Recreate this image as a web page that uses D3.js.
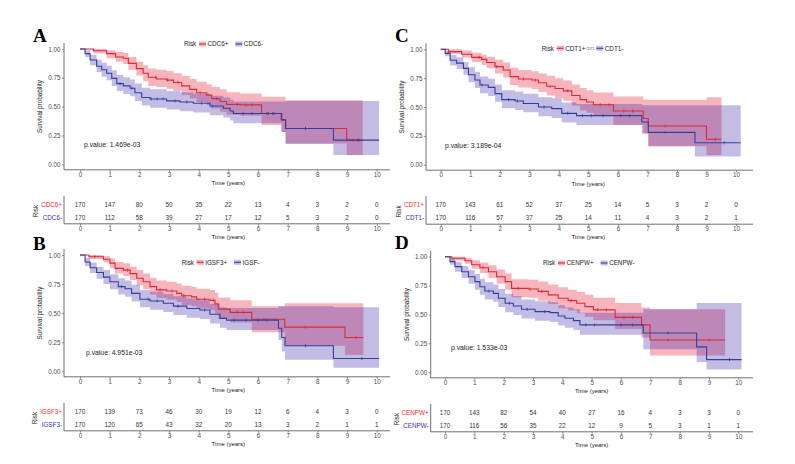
<!DOCTYPE html>
<html>
<head>
<meta charset="utf-8">
<script src="https://cdn.jsdelivr.net/npm/d3@7"></script>
<style>
  body { margin: 0; background: #fff; }
  svg { display: block; font-family: "Liberation Sans", Arial, sans-serif; }
</style>
</head>
<body>
<script>
var width = 795,
    height = 464;

var timeTicks = [0, 1, 2, 3, 4, 5, 6, 7, 8, 9, 10];
var survTicks = [0, 0.25, 0.5, 0.75, 1];

// each row: [time, survival, lower CI, upper CI]  (step after)
// --- A: CDC6
var cdc6Pos = [[0,1,1,1],[0.45,0.985,0.96,1],[0.9,0.96,0.92,0.99],[1.2,0.93,0.89,0.975],[1.46,0.92,0.87,0.965],
  [1.63,0.875,0.82,0.93],[1.9,0.83,0.77,0.89],[2.13,0.79,0.72,0.86],[2.3,0.755,0.68,0.83],[2.58,0.74,0.67,0.82],
  [2.92,0.73,0.655,0.81],[3.15,0.71,0.635,0.79],[3.43,0.68,0.6,0.765],[3.7,0.65,0.57,0.74],[3.93,0.62,0.54,0.715],
  [4.27,0.6,0.515,0.695],[4.44,0.57,0.485,0.67],[4.72,0.545,0.455,0.65],[4.94,0.52,0.43,0.625],[5.4,0.515,0.42,0.615],
  [6.12,0.44,0.34,0.585],[6.78,0.385,0.28,0.585],[6.93,0.31,0.18,0.555],[8.99,0.21,0.08,0.555],[9.53,0.21,0.08,0.555]];
var cdc6Neg = [[0,1,1,1],[0.17,0.96,0.93,0.99],[0.34,0.905,0.86,0.95],[0.56,0.85,0.8,0.91],[0.73,0.82,0.76,0.88],
  [0.9,0.79,0.73,0.855],[1.07,0.745,0.68,0.815],[1.24,0.7,0.635,0.775],[1.46,0.68,0.61,0.755],[1.69,0.66,0.59,0.735],
  [1.85,0.62,0.55,0.7],[2.08,0.58,0.51,0.665],[2.36,0.567,0.49,0.65],[2.92,0.55,0.475,0.635],[3.37,0.54,0.46,0.625],
  [3.82,0.53,0.45,0.615],[4.38,0.505,0.425,0.595],[4.83,0.486,0.405,0.58],[5.06,0.462,0.38,0.56],[5.17,0.44,0.355,0.545],
  [6.8,0.385,0.28,0.545],[6.93,0.31,0.175,0.55],[8.54,0.21,0.08,0.55],[10.08,0.21,0.08,0.55]];
var cdc6PosCens = [2.55, 2.95, 3.3, 4.05, 4.6, 5.3, 5.6, 5.8, 6.35, 6.55, 7.6, 9.2, 9.35];
var cdc6NegCens = [1.35, 1.75, 2.4, 2.6, 2.8, 3.2, 3.6, 4.1, 4.45, 5.5, 5.8, 6.3, 6.5, 7.6, 9.4];
var cdc6PosRisk = [170, 147, 80, 50, 35, 22, 13, 4, 3, 2, 0];
var cdc6NegRisk = [170, 112, 58, 39, 27, 17, 12, 5, 3, 2, 0];

// --- B: IGSF3
var igsf3Pos = [[0,1,1,1],[0.3,0.985,0.965,1],[0.79,0.963,0.935,0.99],[1.01,0.93,0.89,0.97],[1.18,0.885,0.84,0.94],
  [1.46,0.87,0.82,0.93],[1.69,0.84,0.785,0.9],[1.91,0.8,0.74,0.87],[2.13,0.77,0.705,0.84],[2.36,0.728,0.66,0.805],
  [2.58,0.7,0.63,0.78],[2.92,0.69,0.615,0.77],[3.26,0.67,0.595,0.755],[3.43,0.65,0.57,0.735],[3.76,0.64,0.56,0.725],
  [3.93,0.62,0.54,0.71],[4.38,0.61,0.525,0.7],[4.55,0.58,0.495,0.675],[4.66,0.535,0.45,0.635],[5.06,0.507,0.42,0.61],
  [5.79,0.447,0.335,0.56],[6.9,0.38,0.22,0.585],[8.93,0.29,0.14,0.585],[9.55,0.29,0.14,0.585]];
var igsf3Neg = [[0,1,1,1],[0.17,0.94,0.905,0.975],[0.34,0.89,0.845,0.935],[0.56,0.85,0.795,0.9],[0.79,0.81,0.75,0.87],
  [1.01,0.77,0.705,0.835],[1.29,0.728,0.66,0.8],[1.52,0.71,0.64,0.78],[1.74,0.67,0.6,0.745],[2.02,0.62,0.55,0.7],
  [2.36,0.605,0.53,0.685],[2.81,0.585,0.51,0.665],[3.15,0.56,0.485,0.645],[3.6,0.54,0.46,0.625],[4.04,0.527,0.45,0.61],
  [4.38,0.49,0.41,0.58],[4.72,0.455,0.375,0.55],[4.94,0.44,0.355,0.545],[6.69,0.37,0.27,0.56],[6.8,0.29,0.17,0.56],
  [6.91,0.22,0.1,0.56],[8.54,0.11,0.03,0.55],[10.08,0.11,0.03,0.55]];
var igsf3PosCens = [0.5, 1.6, 2.7, 3.1, 3.5, 4.2, 4.5, 5.3, 5.5, 6.2, 7.6, 9.3];
var igsf3NegCens = [1.4, 2.3, 2.6, 3.3, 4.2, 5.2, 5.6, 6.0, 6.3, 7.6, 9.5];
var igsf3PosRisk = [170, 139, 73, 46, 30, 19, 12, 6, 4, 3, 0];
var igsf3NegRisk = [170, 120, 65, 43, 32, 20, 13, 3, 2, 1, 1];

// --- C: CDT1
var cdt1Pos = [[0,1,1,1],[0.26,0.98,0.96,1],[0.71,0.957,0.93,0.99],[1.05,0.93,0.89,0.97],[1.39,0.913,0.865,0.955],
  [1.56,0.885,0.835,0.935],[1.84,0.85,0.79,0.91],[2.12,0.82,0.755,0.885],[2.35,0.763,0.69,0.84],[2.63,0.743,0.67,0.82],
  [3.08,0.734,0.655,0.81],[3.31,0.71,0.63,0.79],[3.59,0.68,0.6,0.77],[3.87,0.66,0.575,0.75],[4.15,0.64,0.555,0.73],
  [4.44,0.6,0.51,0.695],[4.72,0.564,0.47,0.665],[4.94,0.543,0.45,0.645],[5.17,0.52,0.425,0.625],[5.85,0.465,0.345,0.59],
  [6.86,0.4,0.27,0.565],[7.03,0.335,0.16,0.56],[9.0,0.22,0.085,0.585],[9.51,0.22,0.085,0.585]];
var cdt1Neg = [[0,1,1,1],[0.15,0.965,0.94,0.99],[0.32,0.905,0.86,0.95],[0.54,0.88,0.83,0.93],[0.77,0.835,0.78,0.89],
  [0.94,0.78,0.715,0.845],[1.16,0.734,0.665,0.805],[1.33,0.69,0.62,0.765],[1.61,0.67,0.595,0.745],[1.84,0.616,0.545,0.695],
  [2.07,0.564,0.49,0.645],[2.52,0.552,0.475,0.635],[2.8,0.53,0.455,0.615],[3.31,0.5,0.42,0.585],[3.76,0.486,0.405,0.575],
  [4.1,0.445,0.365,0.54],[4.6,0.425,0.345,0.525],[6.81,0.37,0.27,0.515],[7.03,0.28,0.16,0.515],[8.61,0.19,0.07,0.515],
  [10.16,0.19,0.07,0.515]];
var cdt1PosCens = [1.3, 1.9, 2.8, 3.2, 3.7, 4.3, 5.4, 5.7, 6.2, 6.5, 7.6, 9.3];
var cdt1NegCens = [1.4, 2.3, 2.6, 3.5, 4.3, 4.8, 5.1, 5.5, 6.1, 6.4, 7.6, 9.6];
var cdt1PosRisk = [170, 143, 61, 52, 37, 25, 14, 5, 3, 2, 0];
var cdt1NegRisk = [170, 116, 57, 37, 25, 14, 11, 4, 3, 2, 1];

// --- D: CENPW
var cenpwPos = [[0,1,1,1],[0.23,0.986,0.965,1],[0.68,0.965,0.94,0.99],[0.91,0.93,0.895,0.97],[1.19,0.905,0.86,0.95],
  [1.48,0.87,0.815,0.925],[1.76,0.827,0.765,0.89],[2.05,0.784,0.715,0.855],[2.27,0.726,0.65,0.805],[2.84,0.72,0.645,0.8],
  [3.18,0.7,0.62,0.785],[3.52,0.67,0.59,0.76],[3.86,0.64,0.555,0.735],[4.2,0.62,0.535,0.715],[4.49,0.597,0.51,0.695],
  [4.77,0.568,0.48,0.67],[5.06,0.54,0.45,0.645],[5.8,0.475,0.375,0.6],[6.7,0.41,0.3,0.56],[6.99,0.28,0.145,0.545],
  [9.55,0.28,0.145,0.545]];
var cenpwNeg = [[0,1,1,1],[0.17,0.957,0.93,0.985],[0.34,0.914,0.87,0.955],[0.57,0.87,0.815,0.92],[0.8,0.827,0.765,0.885],
  [1.02,0.784,0.715,0.85],[1.19,0.74,0.67,0.81],[1.36,0.703,0.63,0.78],[1.65,0.683,0.61,0.76],[1.82,0.64,0.565,0.72],
  [2.05,0.597,0.52,0.68],[2.33,0.573,0.495,0.66],[2.61,0.545,0.465,0.63],[3.07,0.525,0.445,0.615],[3.58,0.516,0.435,0.605],
  [3.86,0.487,0.405,0.58],[4.09,0.467,0.385,0.56],[4.38,0.447,0.365,0.545],[4.6,0.41,0.325,0.515],[6.76,0.34,0.2,0.545],
  [8.58,0.22,0.09,0.6],[8.92,0.11,0.025,0.6],[10.11,0.11,0.025,0.6]];
var cenpwPosCens = [1.3, 2.5, 2.9, 3.3, 4.3, 5.2, 5.5, 6.1, 6.4, 7.6, 9.0];
var cenpwNegCens = [1.5, 2.2, 2.8, 3.4, 4.8, 5.1, 6.0, 6.4, 7.6, 9.7];
var cenpwPosRisk = [170, 143, 82, 54, 40, 27, 16, 4, 3, 3, 0];
var cenpwNegRisk = [170, 116, 56, 35, 22, 12, 9, 5, 3, 1, 1];

var panelLetters = ["A", "B", "C", "D"];
var pValues = ["1.469e-03", "4.951e-03", "3.189e-04", "1.533e-03"];
var legendLabels = [["CDC6+", "CDC6-"], ["IGSF3+", "IGSF-"], ["CDT1+", "CDT1-"], ["CENPW+", "CENPW-"]];
var tableLabels = [["CDC6+", "CDC6-"], ["IGSF3+", "IGSF3-"], ["CDT1+", "CDT1-"], ["CENPW+", "CENPW-"]];

var curves = [[cdc6Pos, cdc6Neg], [igsf3Pos, igsf3Neg], [cdt1Pos, cdt1Neg], [cenpwPos, cenpwNeg]];
var censors = [[cdc6PosCens, cdc6NegCens], [igsf3PosCens, igsf3NegCens], [cdt1PosCens, cdt1NegCens], [cenpwPosCens, cenpwNegCens]];
var risks = [[cdc6PosRisk, cdc6NegRisk], [igsf3PosRisk, igsf3NegRisk], [cdt1PosRisk, cdt1NegRisk], [cenpwPosRisk, cenpwNegRisk]];

// pixel layout of each panel
var layout = [
  {x0: 80,    x10: 376.7, yTop: 49,    yBot: 164.3, axisX: 64,    right: 390, letterX: 33,  letterY: 42,  legX: 184,   legY: 44,    pX: 84,  pY: 145},
  {x0: 80,    x10: 376.7, yTop: 255,   yBot: 371.3, axisX: 64,    right: 390, letterX: 33,  letterY: 250, legX: 181.7, legY: 262.3, pX: 86,  pY: 352.7},
  {x0: 440.7, x10: 736,   yTop: 49.3,  yBot: 164.7, axisX: 426,   right: 753, letterX: 395, letterY: 42,  legX: 541.7, legY: 48.3,  pX: 445, pY: 146},
  {x0: 445,   x10: 738.3, yTop: 256.7, yBot: 372.3, axisX: 430.7, right: 753, letterX: 395, letterY: 249, legX: 543,   legY: 263,   pX: 451, pY: 348}
];

var lineColors = ["#db2a36", "#33409a"];
var bandColors = ["#e40526", "#3726ac"];
var labelColors = ["#ff2a2a", "#3535b5"];
var axisColor = "#4d4d4d";
var fs = 6.3;

var svg = d3.select("body")
  .append("svg")
  .attr("width", width)
  .attr("height", height);

function stepValue(rows, t) {
  var i = d3.bisector(function(d) { return d[0]; }).right(rows, t) - 1;
  return rows[Math.max(0, i)][1];
}

function styleAxis(a) {
  a.select(".domain").remove();
  a.selectAll(".tick line").attr("stroke", axisColor).attr("stroke-width", 0.6);
  a.selectAll(".tick text").attr("fill", axisColor).attr("font-size", fs).attr("font-family", null);
}

layout.forEach(function(p, k) {
  var g = svg.append("g");

  var xScale = d3.scaleLinear().domain([0, 10]).range([p.x0, p.x10]);
  var yScale = d3.scaleLinear().domain([0, 1]).range([p.yBot, p.yTop]);
  var xAxisY = p.yBot + 5.5;

  // panel letter
  g.append("text")
    .attr("x", p.letterX).attr("y", p.letterY)
    .attr("font-family", "Liberation Serif, Times New Roman, serif")
    .attr("font-weight", "bold").attr("font-size", 19)
    .text(panelLetters[k]);

  // bands then lines
  var band = d3.area().curve(d3.curveStepAfter)
    .x(function(d) { return xScale(d[0]); })
    .y0(function(d) { return yScale(d[2]); })
    .y1(function(d) { return yScale(d[3]); });
  var line = d3.line().curve(d3.curveStepAfter)
    .x(function(d) { return xScale(d[0]); })
    .y(function(d) { return yScale(d[1]); });

  curves[k].forEach(function(rows, j) {
    g.append("path").attr("d", band(rows))
      .attr("fill", bandColors[j]).attr("fill-opacity", 0.3);
  });
  curves[k].forEach(function(rows, j) {
    g.append("path").attr("d", line(rows))
      .attr("fill", "none").attr("stroke", lineColors[j]).attr("stroke-width", 1.1);
    g.selectAll(null)
      .data(censors[k][j])
      .enter()
      .append("line")
      .attr("x1", function(d) { return xScale(d); })
      .attr("x2", function(d) { return xScale(d); })
      .attr("y1", function(d) { return yScale(stepValue(rows, d)) - 1.6; })
      .attr("y2", function(d) { return yScale(stepValue(rows, d)) + 1.6; })
      .attr("stroke", lineColors[j]).attr("stroke-width", 0.8);
  });

  // axes
  var yAxis = d3.axisLeft(yScale).tickValues(survTicks).tickFormat(d3.format(".2f")).tickSize(2).tickPadding(1.5);
  styleAxis(g.append("g").attr("transform", "translate(" + p.axisX + ",0)").call(yAxis));
  var xAxis = d3.axisBottom(xScale).tickValues(timeTicks).tickSize(2).tickPadding(0.5);
  styleAxis(g.append("g").attr("transform", "translate(0," + xAxisY + ")").call(xAxis));

  g.append("line")
    .attr("x1", p.axisX).attr("x2", p.axisX)
    .attr("y1", p.yTop - 6).attr("y2", xAxisY)
    .attr("stroke", axisColor).attr("stroke-width", 0.8);
  g.append("line")
    .attr("x1", p.axisX).attr("x2", p.right)
    .attr("y1", xAxisY).attr("y2", xAxisY)
    .attr("stroke", axisColor).attr("stroke-width", 0.8);

  g.append("text")
    .attr("x", xScale(5)).attr("y", xAxisY + 15.3)
    .attr("text-anchor", "middle").attr("font-size", 6).attr("fill", "#222")
    .text("Time (years)");

  g.append("text")
    .attr("transform", "translate(" + (p.axisX - 22) + "," + yScale(0.5) + ") rotate(-90)")
    .attr("text-anchor", "middle").attr("font-size", fs).attr("fill", "#222")
    .text("Survival probability");

  g.append("text")
    .attr("x", p.pX).attr("y", p.pY + 2.3)
    .attr("font-size", 6.8).attr("fill", "#222")
    .text("p.value: " + pValues[k]);

  // legend
  var leg = g.append("g");
  leg.append("text").attr("x", p.legX).attr("y", p.legY + 2.2)
    .attr("font-size", fs).attr("fill", "#222").text("Risk");
  var lx = p.legX + 15;
  legendLabels[k].forEach(function(lab, j) {
    leg.append("rect")
      .attr("x", lx).attr("y", p.legY - 2.5).attr("width", 7).attr("height", 5)
      .attr("fill", bandColors[j]).attr("fill-opacity", 0.3);
    leg.append("line")
      .attr("x1", lx).attr("x2", lx + 7).attr("y1", p.legY).attr("y2", p.legY)
      .attr("stroke", lineColors[j]).attr("stroke-width", 1.1);
    var t = leg.append("text").attr("x", lx + 8.5).attr("y", p.legY + 2.2)
      .attr("font-size", fs).attr("fill", "#222").text(lab);
    var w = t.node().getComputedTextLength();
    lx = lx + 8.5 + w + 7;
    if (k === 2 && j === 0) {
      // small label squeezed after CDT1+ in panel C
      leg.append("text").attr("x", lx - 6.5).attr("y", p.legY + 1.2)
        .attr("font-size", 3.4).attr("fill", "#444").text("CDT1-");
      lx += 4;
    }
  });

  // risk table
  var rowY = [p.yBot + 40.5, p.yBot + 53];
  var tabAxisY = p.yBot + 59.5;
  var labW = 0;
  risks[k].forEach(function(vals, j) {
    g.selectAll(null)
      .data(vals)
      .enter()
      .append("text")
      .attr("x", function(d, i) { return xScale(timeTicks[i]); })
      .attr("y", rowY[j] + 2.2)
      .attr("text-anchor", "middle").attr("font-size", fs).attr("fill", "#333")
      .text(function(d) { return d; });
    var lt = g.append("text")
      .attr("x", p.axisX - 2).attr("y", rowY[j] + 2.2)
      .attr("text-anchor", "end").attr("font-size", fs).attr("fill", labelColors[j])
      .text(tableLabels[k][j]);
    labW = Math.max(labW, lt.node().getComputedTextLength());
  });
  g.append("text")
    .attr("transform", "translate(" + (p.axisX - 2 - labW - 3) + "," + ((rowY[0] + rowY[1]) / 2) + ") rotate(-90)")
    .attr("text-anchor", "middle").attr("font-size", fs).attr("fill", "#222")
    .text("Risk");

  g.append("line")
    .attr("x1", p.axisX).attr("x2", p.axisX)
    .attr("y1", p.yBot + 31.5).attr("y2", tabAxisY)
    .attr("stroke", axisColor).attr("stroke-width", 0.8);
  styleAxis(g.append("g").attr("transform", "translate(0," + tabAxisY + ")").call(xAxis));
  g.append("line")
    .attr("x1", p.axisX).attr("x2", p.right)
    .attr("y1", tabAxisY).attr("y2", tabAxisY)
    .attr("stroke", axisColor).attr("stroke-width", 0.8);
  g.append("text")
    .attr("x", xScale(5)).attr("y", tabAxisY + 15)
    .attr("text-anchor", "middle").attr("font-size", 6).attr("fill", "#222")
    .text("Time (years)");
});
</script>
</body>
</html>
